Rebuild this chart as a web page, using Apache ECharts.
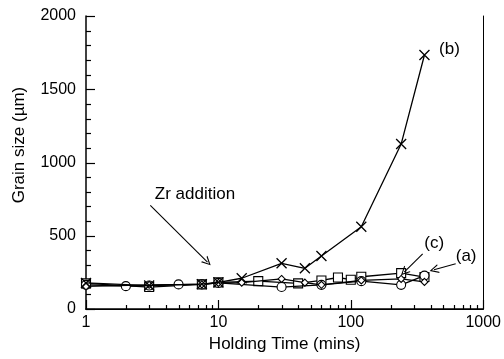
<!DOCTYPE html>
<html>
<head>
<meta charset="utf-8">
<script src="https://cdn.jsdelivr.net/npm/echarts@6/dist/echarts.min.js"></script>
<style>
  html, body { margin: 0; padding: 0; background: #fff; }
  #main { width: 504px; height: 359px; }
</style>
</head>
<body>
<div id="main"></div>
<script>
// holding time (mins) and grain size (um) for each sample
const circleTime = [1, 2, 3, 5, 7.5, 10, 30, 60, 120, 240, 360];
const circleSize = [165, 156, 160, 168, 168, 178, 150, 165, 190, 165, 228];

const squareTime = [1, 3, 7.5, 10, 20, 40, 60, 80, 100, 120, 240, 360];
const squareSize = [175, 150, 168, 182, 190, 175, 195, 215, 200, 220, 245, 218];

const diamondTime = [1, 3, 7.5, 10, 15, 30, 45, 60, 120, 240, 360];
const diamondSize = [155, 165, 168, 178, 180, 205, 180, 165, 195, 205, 185];

const crossTime = [1, 3, 7.5, 10, 15, 30, 45, 60, 120, 240, 360];
const crossSize = [178, 160, 170, 182, 210, 312, 278, 362, 562, 1126, 1734];

const xTicks = [1, 10, 100, 1000];
const yTicks = [0, 500, 1000, 1500, 2000];

function pairs(xs, ys) {
    return xs.map(function (x, i) { return [x, ys[i]]; });
}

// minor ticks: 2..9 in each decade, every 100 on the y axis
let xMinorTicks = [];
for (let d = 0; d < 3; d++) {
    for (let k = 2; k <= 9; k++) xMinorTicks.push(k * xTicks[d]);
}
let yMinorTicks = [];
for (let v = 100; v < 2000; v += 100) {
    if (v % 500 !== 0) yMinorTicks.push(v);
}

const FONT = 'Liberation Sans';
const CROSS = 'path://M0,0L10,10M10,0L0,10';
const HEAD = 'path://M0,10L5,0L10,10L8.6,10L5,2.6L1.4,10Z';
const plain = function (v) { return String(v); };

let myChart = echarts.init(document.getElementById('main'));

function lineSeries(name, data, symbol, size, z) {
    return {
        name: name,
        type: 'line',
        data: data,
        symbol: symbol,
        symbolSize: size,
        z: z,
        lineStyle: { color: '#000', width: 1.3 },
        itemStyle: { color: '#fff', borderColor: '#000', borderWidth: 1.1 },
        animation: false
    };
}

let crossSeries = lineSeries('(b)', pairs(crossTime, crossSize), CROSS, 10, 5);
crossSeries.itemStyle = { color: '#000', borderColor: '#000', borderWidth: 1.3 };

// empty helper series that only carries the arrows and the text notes
let noteSeries = {
    name: 'notes',
    type: 'scatter',
    data: [],
    z: 6,
    itemStyle: { color: '#000' },
    markLine: {
        silent: true,
        animation: false,
        symbol: ['none', HEAD],
        symbolSize: 9,
        lineStyle: { color: '#000', width: 1.1, type: 'solid' },
        label: { show: false },
        data: [
            [{ coord: [3.06, 707] }, { coord: [8.27, 320] }],
            [{ coord: [349, 377] }, { coord: [253, 252] }],
            [{ coord: [620, 309] }, { coord: [425, 268] }]
        ]
    },
    markPoint: {
        silent: true,
        animation: false,
        symbol: 'circle',
        symbolSize: 0,
        label: {
            show: true,
            position: 'right',
            distance: 0,
            formatter: '{b}',
            color: '#000',
            fontFamily: FONT,
            fontSize: 17
        },
        data: [
            { name: 'Zr addition', coord: [3.31, 782] },
            { name: '(b)', coord: [464, 1772] },
            { name: '(c)', coord: [359, 450] },
            { name: '(a)', coord: [620, 359] }
        ]
    }
};

let yTitle = {
    type: 'text',
    id: 'ytitle',
    x: 19,
    y: 145,
    rotation: Math.PI / 2,
    style: {
        text: 'Grain size (µm)',
        fill: '#000',
        font: '17px "Liberation Sans"',
        align: 'center',
        verticalAlign: 'middle'
    }
};

let option = {
    backgroundColor: '#fff',
    animation: false,
    grid: {
        left: 86,
        right: 6,
        top: 16,
        bottom: 50
    },
    xAxis: [
        {
            type: 'log',
            logBase: 10,
            min: xTicks[0],
            max: xTicks[xTicks.length - 1],
            position: 'bottom',
            name: 'Holding Time (mins)',
            nameLocation: 'middle',
            nameGap: 25,
            nameTextStyle: { color: '#000', fontFamily: FONT, fontSize: 17 },
            axisLine: { lineStyle: { color: '#000', width: 1.5 } },
            axisTick: { show: false },
            axisLabel: { color: '#000', fontFamily: FONT, fontSize: 16, margin: 6, formatter: plain },
            splitLine: { show: false }
        },
        {
            // top edge of the frame
            type: 'log',
            min: xTicks[0],
            max: xTicks[xTicks.length - 1],
            position: 'top',
            axisLine: { show: true, lineStyle: { color: '#000', width: 1 } },
            axisTick: { show: false },
            axisLabel: { show: false },
            splitLine: { show: false }
        }
    ],
    yAxis: [
        {
            type: 'value',
            min: yTicks[0],
            max: yTicks[yTicks.length - 1],
            interval: 500,
            position: 'left',
            axisLine: { show: true, lineStyle: { color: '#000', width: 1.5 } },
            axisTick: { show: false },
            axisLabel: { color: '#000', fontFamily: FONT, fontSize: 16, margin: 10, formatter: plain },
            splitLine: { show: false }
        },
        {
            // right edge of the frame
            type: 'value',
            min: yTicks[0],
            max: yTicks[yTicks.length - 1],
            position: 'right',
            axisLine: { show: true, lineStyle: { color: '#000', width: 1 } },
            axisTick: { show: false },
            axisLabel: { show: false },
            splitLine: { show: false }
        }
    ],
    graphic: [yTitle],
    series: [
        lineSeries('(a)', pairs(circleTime, circleSize), 'circle', 9, 3),
        lineSeries('(c)', pairs(squareTime, squareSize), 'rect', 9, 2),
        lineSeries('(d)', pairs(diamondTime, diamondSize), 'diamond', 7, 4),
        crossSeries,
        noteSeries
    ]
};

myChart.setOption(option);

// inward ticks, placed through the chart's own axes
let xAxisY = myChart.convertToPixel({ yAxisIndex: 0 }, yTicks[0]);
let yAxisX = myChart.convertToPixel({ xAxisIndex: 0 }, xTicks[0]);
let tickLines = [];

function tick(x1, y1, x2, y2) {
    tickLines.push({
        type: 'line',
        silent: true,
        z: 10,
        shape: { x1: x1, y1: y1, x2: x2, y2: y2 },
        style: { stroke: '#000', lineWidth: 1.2 }
    });
}

xTicks.forEach(function (t) {
    let px = Math.round(myChart.convertToPixel({ xAxisIndex: 0 }, t)) + 0.5;
    tick(px, xAxisY, px, xAxisY - 9);
});
xMinorTicks.forEach(function (t) {
    let px = Math.round(myChart.convertToPixel({ xAxisIndex: 0 }, t)) + 0.5;
    tick(px, xAxisY, px, xAxisY - 4);
});
yTicks.forEach(function (v) {
    let py = Math.round(myChart.convertToPixel({ yAxisIndex: 0 }, v)) + 0.5;
    tick(yAxisX, py, yAxisX + 9, py);
});
yMinorTicks.forEach(function (v) {
    let py = Math.round(myChart.convertToPixel({ yAxisIndex: 0 }, v)) + 0.5;
    tick(yAxisX, py, yAxisX + 5, py);
});

myChart.setOption({ graphic: [yTitle].concat(tickLines) });
</script>
</body>
</html>
